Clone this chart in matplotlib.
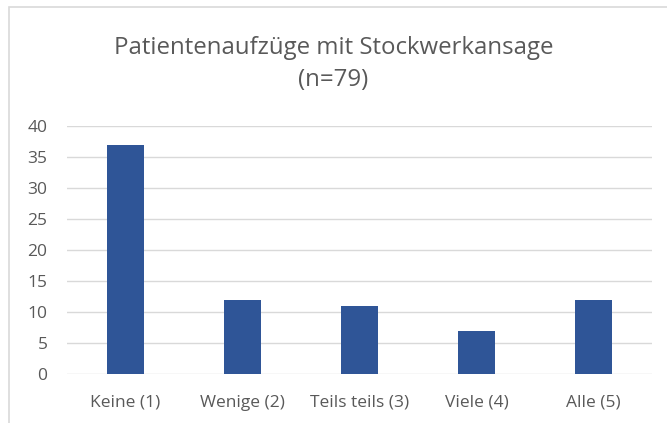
import matplotlib.pyplot as plt
from matplotlib.patches import Rectangle

categories = ['Keine (1)', 'Wenige (2)', 'Teils teils (3)', 'Viele (4)', 'Alle (5)']
values = [37, 12, 11, 7, 12]
yticks = [0, 5, 10, 15, 20, 25, 30, 35, 40]

plt.rcParams['font.family'] = ['Open Sans', 'DejaVu Sans']
text_col = '#595959'

fig = plt.figure(figsize=(6.67, 4.23), dpi=100)
fig.patches.append(Rectangle((9 / 667, -0.1), 1.2, 1 - 7 / 423 + 0.1,
                             transform=fig.transFigure, fill=False,
                             edgecolor='#D9D9D9', linewidth=1.2))

ax = fig.add_axes([67 / 667, 1 - 374 / 423, 585 / 667, 248 / 423])
x = range(len(categories))
ax.bar(x, values, width=0.31, color='#2F5597', zorder=3)
ax.set_xlim(-0.5, len(categories) - 0.5)
ax.set_ylim(0, 40)
ax.set_yticks(yticks)
ax.set_xticks(list(x))
ax.set_xticklabels(categories)
ax.grid(axis='y', color='#D9D9D9', linewidth=1, zorder=0)
for s in ax.spines.values():
    s.set_visible(False)
ax.tick_params(length=0, colors=text_col, labelsize=12.5)
ax.tick_params(axis='x', pad=15)
ax.tick_params(axis='y', pad=14)

fig.text(0.5, 1 - 48 / 423, 'Patientenaufzüge mit Stockwerkansage', ha='center', va='center',
         fontsize=17.3, color=text_col)
fig.text(0.5, 1 - 80 / 423, '(n=79)', ha='center', va='center', fontsize=17.3, color=text_col)

fig.savefig('out.png', dpi=100)
